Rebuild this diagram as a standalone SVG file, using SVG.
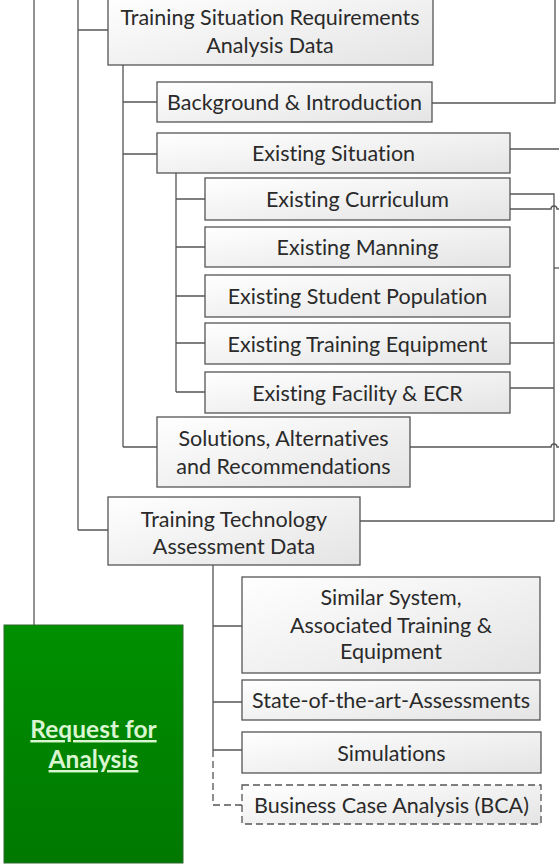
<svg xmlns="http://www.w3.org/2000/svg" width="559" height="865" viewBox="0 0 559 865">
<defs>
<linearGradient id="boxg" x1="0" y1="0" x2="1" y2="1">
<stop offset="0" stop-color="#ffffff"/>
<stop offset="1" stop-color="#e4e4e4"/>
</linearGradient>
<linearGradient id="greeng" x1="0" y1="0" x2="0" y2="1">
<stop offset="0" stop-color="#009000"/>
<stop offset="1" stop-color="#007800"/>
</linearGradient>
</defs>
<style>
.box{fill:url(#boxg);stroke:#555;stroke-width:1.3}
.dbox{fill:url(#boxg);stroke:#555;stroke-width:1.3;stroke-dasharray:7,4}
.t{font-family:Lato,"Open Sans",sans-serif;font-size:21.5px;fill:#2a2a2a;text-anchor:middle;dominant-baseline:central;font-variant-ligatures:none}
.ln{fill:none;stroke:#555;stroke-width:1.3}
.dln{fill:none;stroke:#555;stroke-width:1.3;stroke-dasharray:7,4}
.gt{font-family:Lato,"Open Sans",sans-serif;font-size:24.5px;font-weight:bold;fill:#d9f5d2;text-anchor:middle;text-decoration:underline}
</style>
<g id="connectors">
<path class="ln" d="M34,0V625"/>
<path class="ln" d="M78,0V530M78,30H108M78,530H108"/>
<path class="ln" d="M123,65V447M123,102H157M123,154H157M123,447H157"/>
<path class="ln" d="M176,173V392M176,199H205M176,247H205M176,296H205M176,343H205M176,392H205"/>
<path class="ln" d="M213,565V750M213,626H242M213,702H242M213,750H242"/>
<path class="dln" d="M213,750V805H242"/>
<path class="ln" d="M432,103H555V0"/>
<path class="ln" d="M510,149H559"/>
<path class="ln" d="M510,194H554V521H360"/>
<path class="ln" d="M510,209H551A3,3 0 0 1 557,209H559"/>
<path class="ln" d="M554,268H559"/>
<path class="ln" d="M510,343H554M510,388H554"/>
<path class="ln" d="M410,447H551A3,3 0 0 1 557,447H559"/>
</g>
<g id="n-tsr">
<rect class="box" x="108" y="-5" width="325" height="70"/>
<text class="t" x="270" y="17">Training Situation Requirements</text>
<text class="t" x="270" y="45">Analysis Data</text>
</g>
<g id="n-bg">
<rect class="box" x="157" y="82" width="275" height="40"/>
<text class="t" x="294.5" y="102">Background &amp; Introduction</text>
</g>
<g id="n-es">
<rect class="box" x="157" y="133" width="353" height="40"/>
<text class="t" x="333.5" y="153">Existing Situation</text>
</g>
<g id="n-ec">
<rect class="box" x="205" y="178" width="305" height="42"/>
<text class="t" x="357.5" y="199">Existing Curriculum</text>
</g>
<g id="n-em">
<rect class="box" x="205" y="227" width="305" height="40"/>
<text class="t" x="357.5" y="247">Existing Manning</text>
</g>
<g id="n-esp">
<rect class="box" x="205" y="275" width="305" height="42"/>
<text class="t" x="357.5" y="296">Existing Student Population</text>
</g>
<g id="n-ete">
<rect class="box" x="205" y="323" width="305" height="41"/>
<text class="t" x="357.5" y="343.5">Existing Training Equipment</text>
</g>
<g id="n-ef">
<rect class="box" x="205" y="372" width="305" height="41"/>
<text class="t" x="357.5" y="392.5">Existing Facility &amp; ECR</text>
</g>
<g id="n-sar">
<rect class="box" x="157" y="417" width="253" height="70"/>
<text class="t" x="283.5" y="438">Solutions, Alternatives</text>
<text class="t" x="283.5" y="466">and Recommendations</text>
</g>
<g id="n-tta">
<rect class="box" x="108" y="497" width="252" height="68"/>
<text class="t" x="234" y="519">Training Technology</text>
<text class="t" x="234" y="546">Assessment Data</text>
</g>
<g id="n-ss">
<rect class="box" x="242" y="577" width="298" height="96"/>
<text class="t" x="391" y="597">Similar System,</text>
<text class="t" x="391" y="625">Associated Training &amp;</text>
<text class="t" x="391" y="651">Equipment</text>
</g>
<g id="n-sota">
<rect class="box" x="242" y="680" width="298" height="40"/>
<text class="t" x="391" y="700">State-of-the-art-Assessments</text>
</g>
<g id="n-sim">
<rect class="box" x="242" y="732" width="299" height="41"/>
<text class="t" x="391.5" y="752.5">Simulations</text>
</g>
<g id="n-bca">
<rect class="dbox" x="242" y="785" width="299" height="39"/>
<text class="t" x="391.5" y="804.5">Business Case Analysis (BCA)</text>
</g>
<g id="n-rfa">
<rect x="4" y="625" width="179" height="238" fill="url(#greeng)" stroke="#2c6b2c" stroke-width="1"/>
<text class="gt" x="93.5" y="738">Request for</text>
<text class="gt" x="93.5" y="768">Analysis</text>
</g>
</svg>
